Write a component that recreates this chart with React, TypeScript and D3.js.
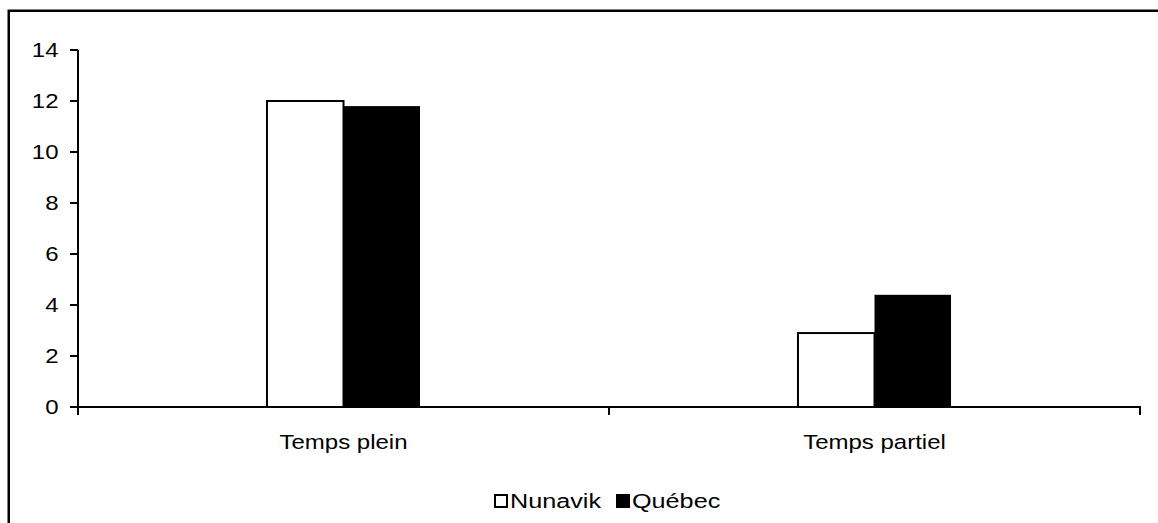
import { useRef, useEffect } from "react";
import * as d3 from "d3";

// données
const categories = ["Temps plein", "Temps partiel"];
const series = ["Nunavik", "Québec"];
const nunavik = [12.0, 2.9];
const quebec = [11.8, 4.4];
const yTicks = [0, 2, 4, 6, 8, 10, 12, 14];

const W = 1158;
const H = 523;
const FONT = "'Liberation Sans', Arial, sans-serif";
const SX = 1.2; // le texte de l'image est un peu étiré horizontalement

const App = () => {
  const ref = useRef<SVGSVGElement>(null);

  useEffect(() => {
    const svg = d3.select(ref.current);
    svg.selectAll("*").remove();

    const left = 78;
    const right = 1140;
    const top = 50;
    const bottom = 407;

    const x = d3.scaleBand().domain(categories).range([left, right]);
    const inner = d3
      .scaleBand()
      .domain(series)
      .range([0, x.bandwidth()])
      .paddingInner(0)
      .paddingOuter(2.47);
    const y = d3.scaleLinear().domain([0, 14]).range([bottom, top]);

    // cadre extérieur
    svg
      .append("rect")
      .attr("x", 8.75)
      .attr("y", 10.75)
      .attr("width", 1200)
      .attr("height", 600)
      .attr("fill", "none")
      .attr("stroke", "#000")
      .attr("stroke-width", 2.5);

    const text = (tx: number, ty: number, s: string, anchor: string, size = 20) =>
      svg
        .append("text")
        .attr("transform", `translate(${tx},${ty}) scale(${SX},1)`)
        .attr("text-anchor", anchor)
        .attr("font-family", FONT)
        .attr("font-size", size)
        .attr("fill", "#000")
        .text(s);

    // barres
    const values: Record<string, number[]> = { Nunavik: nunavik, Québec: quebec };
    series.forEach((s) => {
      categories.forEach((c, i) => {
        const v = values[s][i];
        const bx = (x(c) as number) + (inner(s) as number);
        svg
          .append("rect")
          .attr("x", bx)
          .attr("y", y(v))
          .attr("width", inner.bandwidth())
          .attr("height", y(0) - y(v))
          .attr("fill", s === "Nunavik" ? "#fff" : "#000")
          .attr("stroke", "#000")
          .attr("stroke-width", s === "Nunavik" ? 2 : 0);
      });
    });

    // axe Y
    svg
      .append("line")
      .attr("x1", left)
      .attr("x2", left)
      .attr("y1", top)
      .attr("y2", bottom + 8)
      .attr("stroke", "#000")
      .attr("stroke-width", 2);
    yTicks.forEach((t) => {
      svg
        .append("line")
        .attr("x1", left - 8)
        .attr("x2", left)
        .attr("y1", y(t))
        .attr("y2", y(t))
        .attr("stroke", "#000")
        .attr("stroke-width", 2);
      text(58.5, y(t) + 7, String(t), "end");
    });

    // axe X
    svg
      .append("line")
      .attr("x1", left)
      .attr("x2", right + 1)
      .attr("y1", bottom)
      .attr("y2", bottom)
      .attr("stroke", "#000")
      .attr("stroke-width", 2);
    const bounds = [left, ...categories.map((c) => (x(c) as number) + x.bandwidth())];
    bounds.forEach((b) => {
      svg
        .append("line")
        .attr("x1", b)
        .attr("x2", b)
        .attr("y1", bottom)
        .attr("y2", bottom + 8)
        .attr("stroke", "#000")
        .attr("stroke-width", 2);
    });
    categories.forEach((c) => {
      text((x(c) as number) + x.bandwidth() / 2, 448.5, c, "middle");
    });

    // légende
    const legendX = [494, 616];
    series.forEach((s, i) => {
      svg
        .append("rect")
        .attr("x", legendX[i] + 1)
        .attr("y", 495)
        .attr("width", 12)
        .attr("height", 12)
        .attr("fill", s === "Nunavik" ? "#fff" : "#000")
        .attr("stroke", "#000")
        .attr("stroke-width", 2);
      text(legendX[i] + 16, 508, s, "start", 21);
    });
  }, []);

  return (
    <svg
      ref={ref}
      width={W}
      height={H}
      style={{ position: "absolute", left: 0, top: 0, background: "#fff" }}
    />
  );
};

export default App;
